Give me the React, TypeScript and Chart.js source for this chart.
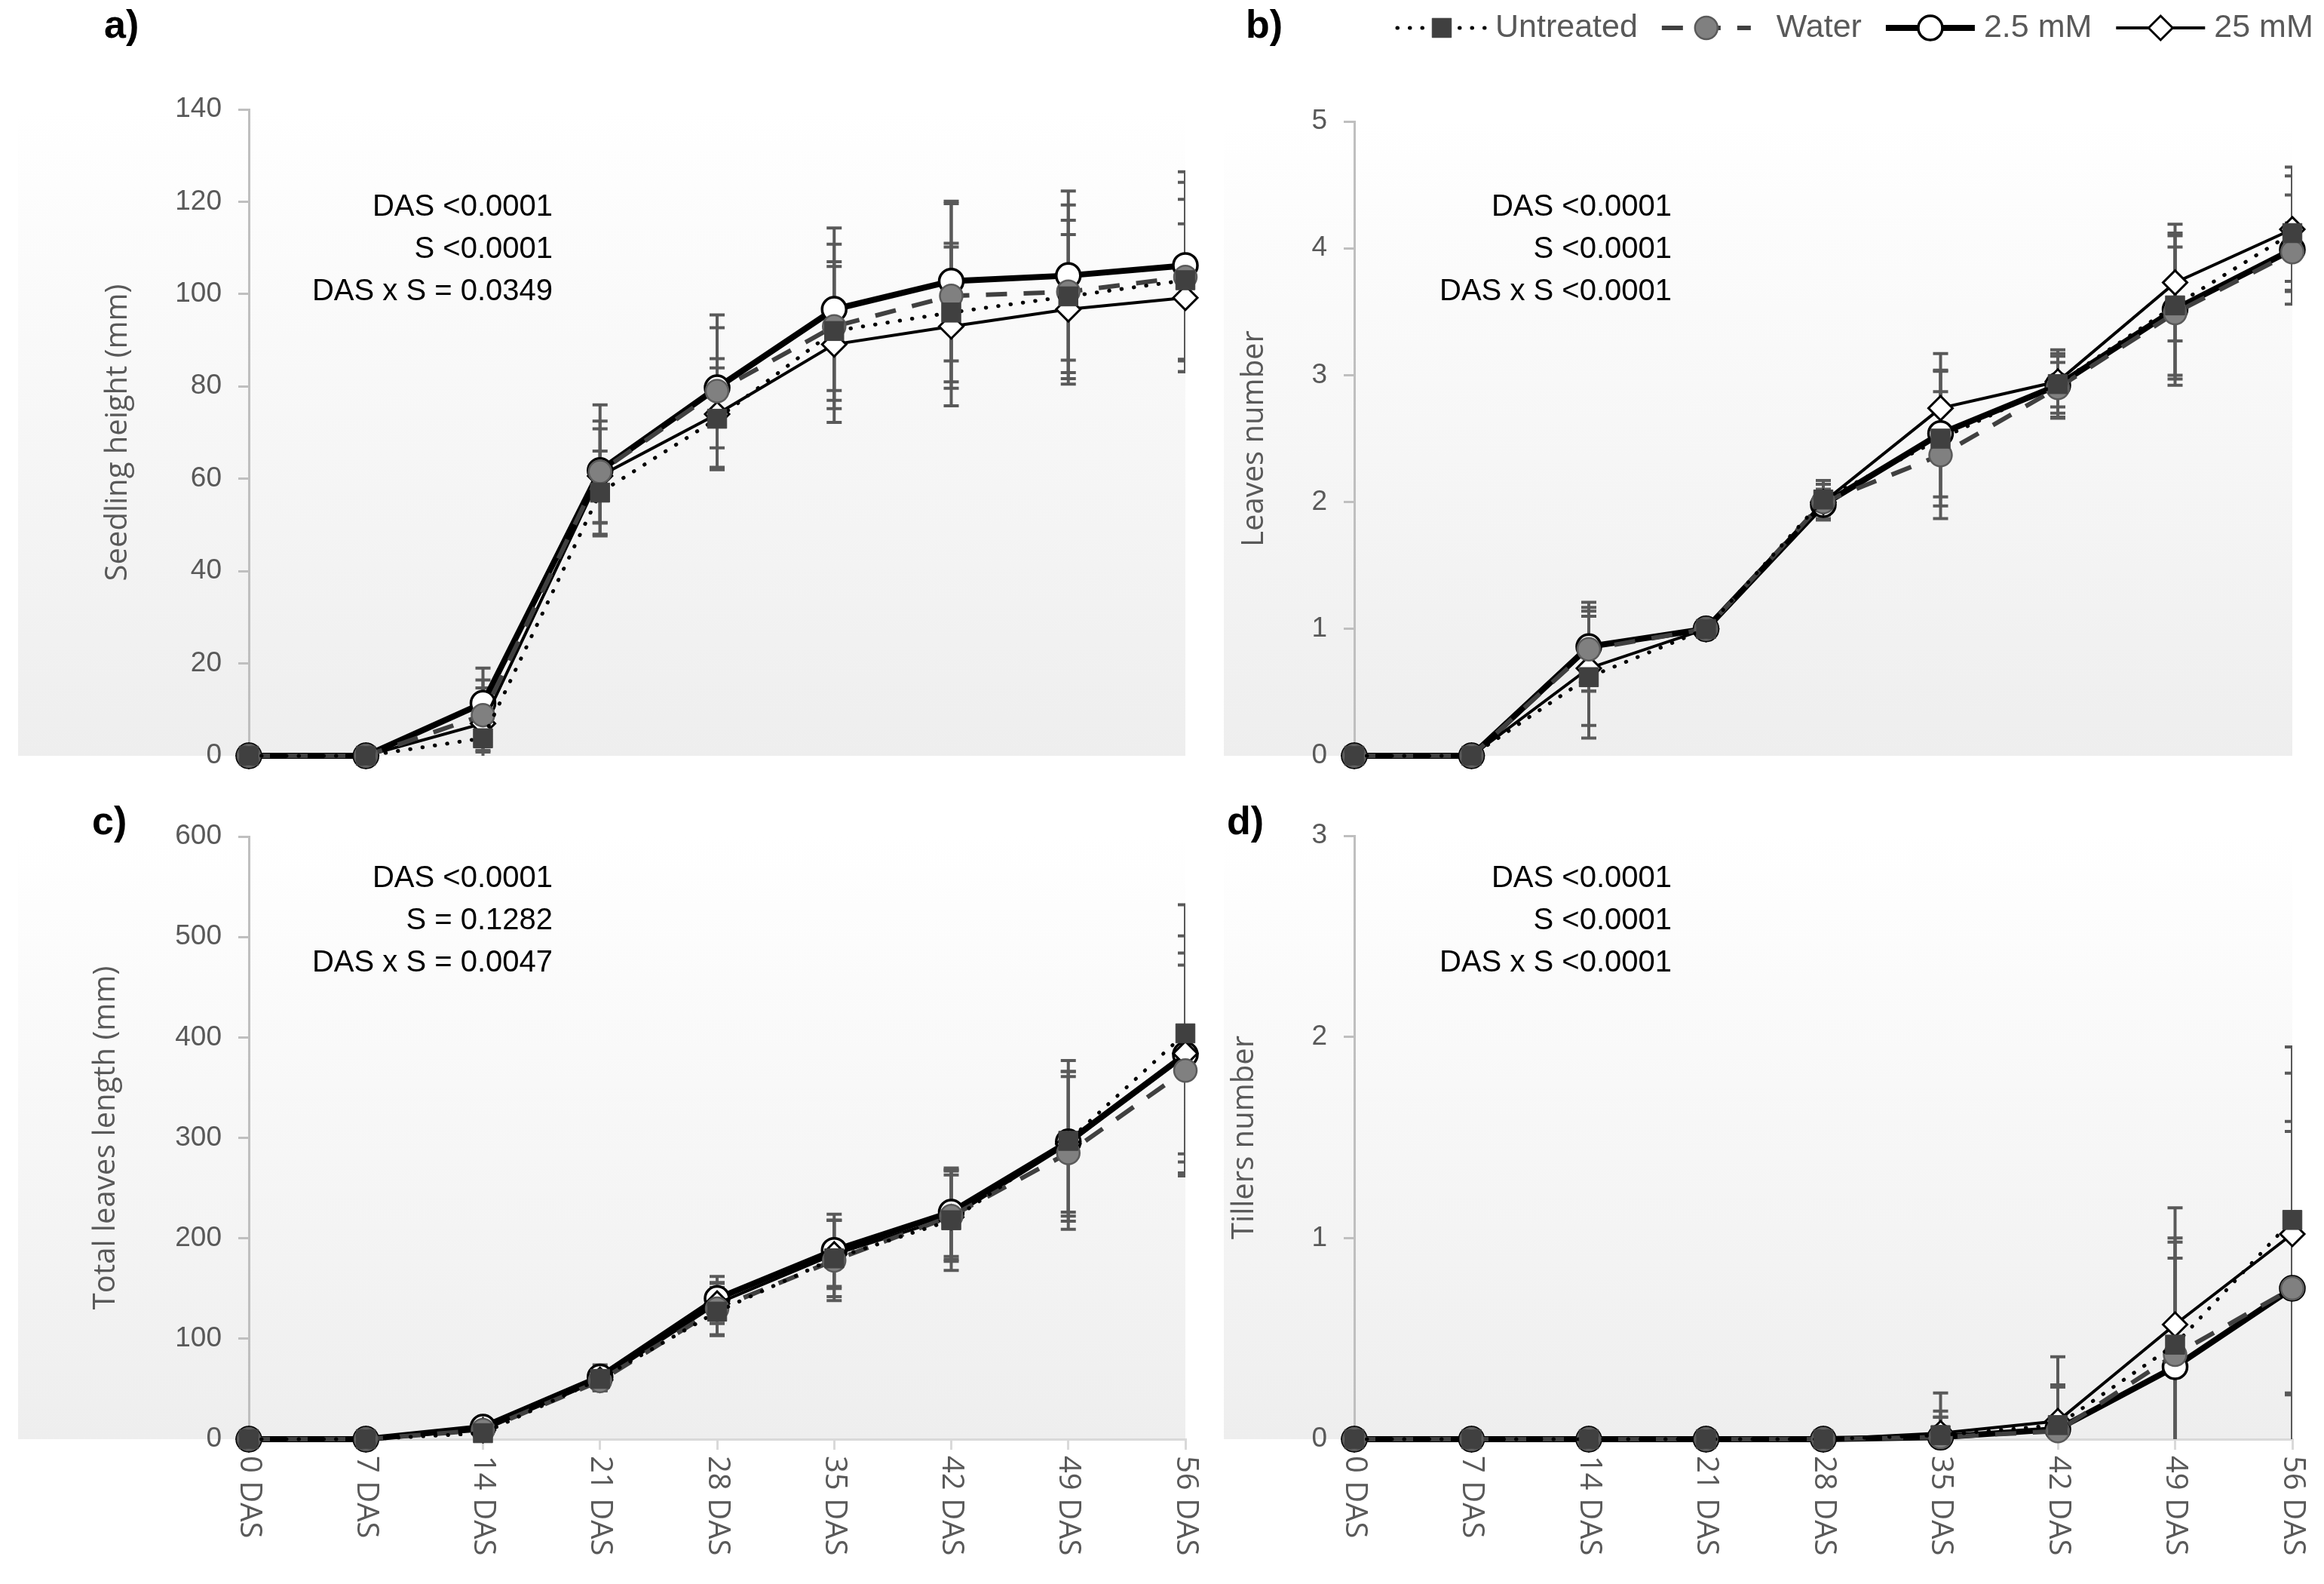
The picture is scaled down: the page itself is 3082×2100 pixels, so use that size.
import React, { useEffect, useRef } from 'react';
import { Chart, registerables } from 'chart.js';

Chart.register(...registerables);

// ---------------- data ----------------
const categories = ['0 DAS', '7 DAS', '14 DAS', '21 DAS', '28 DAS', '35 DAS', '42 DAS', '49 DAS', '56 DAS'];
const seriesNames = ['Untreated', 'Water', '2.5 mM', '25 mM'];

// a) Seedling height (mm)
const heightUntreated = [0, 0, 3.8, 57, 73, 92, 96, 99.5, 103];
const heightUntreatedErr = [0, 0, 3, 9, 11, 15, 15, 16.5, 17.5];
const heightWater = [0, 0, 8.8, 61.5, 79, 93, 99.6, 100.5, 103.7];
const heightWaterErr = [0, 0, 7.6, 11, 16.5, 17.8, 20, 18.8, 20.5];
const heightLow = [0, 0, 11.4, 61.8, 79.7, 96.7, 102.8, 104, 106.2];
const heightLowErr = [0, 0, 7.6, 14.2, 13, 17.6, 17.3, 18.3, 20.3];
const heightHigh = [0, 0, 7, 60.6, 74, 89.1, 93, 96.7, 99.2];
const heightHighErr = [0, 0, 7.7, 10.2, 12, 16.9, 17.2, 16.2, 16];

// b) Leaves number
const leavesUntreated = [0, 0, 0.62, 1, 2.02, 2.5, 2.93, 3.55, 4.12];
const leavesUntreatedErr = [0, 0, 0.48, 0, 0.15, 0.53, 0.27, 0.55, 0.45];
const leavesWater = [0, 0, 0.84, 1, 2.0, 2.37, 2.9, 3.49, 3.97];
const leavesWaterErr = [0, 0, 0.33, 0, 0.14, 0.5, 0.2, 0.52, 0.23];
const leavesLow = [0, 0, 0.86, 1, 1.98, 2.54, 2.92, 3.52, 3.99];
const leavesLowErr = [0, 0, 0.35, 0, 0.12, 0.5, 0.25, 0.6, 0.43];
const leavesHigh = [0, 0, 0.69, 1, 2.0, 2.74, 2.95, 3.73, 4.15];
const leavesHighErr = [0, 0, 0.45, 0, 0.1, 0.43, 0.2, 0.46, 0.49];

// c) Total leaves length (mm)
const lengthUntreated = [0, 0, 6, 60, 127, 180, 218, 297, 404];
const lengthUntreatedErr = [0, 0, 3, 10, 24, 38, 50, 80, 128];
const lengthWater = [0, 0, 9, 58, 130, 178, 222, 285, 367];
const lengthWaterErr = [0, 0, 3, 10, 26, 40, 45, 76, 105];
const lengthLow = [0, 0, 12, 62, 140, 188, 226, 296, 383];
const lengthLowErr = [0, 0, 3, 12, 22, 36, 44, 70, 118];
const lengthHigh = [0, 0, 9, 59, 135, 184, 221, 294, 384];
const lengthHighErr = [0, 0, 3, 10, 20, 34, 42, 72, 100];

// d) Tillers number
const tillersUntreated = [0, 0, 0, 0, 0, 0.02, 0.07, 0.47, 1.09];
const tillersUntreatedErr = [0, 0, 0, 0, 0, 0.12, 0.2, 0.53, 0.86];
const tillersWater = [0, 0, 0, 0, 0, 0.01, 0.04, 0.42, 0.75];
const tillersWaterErr = [0, 0, 0, 0, 0, 0.1, 0.22, 0.48, 0.78];
const tillersLow = [0, 0, 0, 0, 0, 0.01, 0.05, 0.36, 0.75];
const tillersLowErr = [0, 0, 0, 0, 0, 0.1, 0.21, 0.62, 0.83];
const tillersHigh = [0, 0, 0, 0, 0, 0.03, 0.09, 0.57, 1.02];
const tillersHighErr = [0, 0, 0, 0, 0, 0.2, 0.32, 0.58, 0.8];

// statistics annotations
const statsA = ['DAS <0.0001', 'S <0.0001', 'DAS x S = 0.0349'];
const statsB = ['DAS <0.0001', 'S <0.0001', 'DAS x S <0.0001'];
const statsC = ['DAS <0.0001', 'S = 0.1282', 'DAS x S = 0.0047'];
const statsD = ['DAS <0.0001', 'S <0.0001', 'DAS x S <0.0001'];

// axis ranges
const yMaxA = 140, yStepA = 20;
const yMaxB = 5, yStepB = 1;
const yMaxC = 600, yStepC = 100;
const yMaxD = 3, yStepD = 1;

// ---------------- styles ----------------
const TICK_COLOR = '#595959';
const NARROW = "'Liberation Sans', Arial, sans-serif";
const WIDE = "'Open Sans', 'DejaVu Sans', sans-serif";

const seriesStyles: any[] = [
  {
    borderColor: '#000000', borderWidth: 5, borderDash: [0.5, 16], borderCapStyle: 'round',
    pointStyle: 'rect', pointRadius: 18, pointBackgroundColor: '#404040', pointBorderColor: '#404040',
    pointBorderWidth: 1, order: 0,
  },
  {
    borderColor: '#404040', borderWidth: 6, borderDash: [28, 22], borderCapStyle: 'butt',
    pointStyle: 'circle', pointRadius: 15, pointBackgroundColor: '#808080', pointBorderColor: '#5a5a5a',
    pointBorderWidth: 2.5, order: 1,
  },
  {
    borderColor: '#000000', borderWidth: 8, borderDash: [],
    pointStyle: 'circle', pointRadius: 16, pointBackgroundColor: '#ffffff', pointBorderColor: '#000000',
    pointBorderWidth: 3.5, order: 3,
  },
  {
    borderColor: '#000000', borderWidth: 4, borderDash: [],
    pointStyle: 'rectRot', pointRadius: 16, pointBackgroundColor: '#ffffff', pointBorderColor: '#000000',
    pointBorderWidth: 3, order: 2,
  },
];

function drawMarker(ctx: CanvasRenderingContext2D, st: any, x: number, y: number) {
  const r = st.pointRadius;
  ctx.save();
  ctx.beginPath();
  if (st.pointStyle === 'rect') {
    const s = Math.SQRT1_2 * r;
    ctx.rect(x - s, y - s, 2 * s, 2 * s);
  } else if (st.pointStyle === 'rectRot') {
    ctx.moveTo(x - r, y);
    ctx.lineTo(x, y - r);
    ctx.lineTo(x + r, y);
    ctx.lineTo(x, y + r);
    ctx.closePath();
  } else {
    ctx.arc(x, y, r, 0, Math.PI * 2);
  }
  ctx.fillStyle = st.pointBackgroundColor;
  ctx.fill();
  ctx.setLineDash([]);
  ctx.lineWidth = st.pointBorderWidth;
  ctx.strokeStyle = st.pointBorderColor;
  ctx.stroke();
  ctx.restore();
}

const errorBarPlugin = {
  id: 'errorBars',
  beforeDatasetsDraw(chart: any) {
    const { ctx, chartArea: a } = chart;
    const yS = chart.scales.y;
    ctx.save();
    ctx.beginPath();
    ctx.rect(a.left, a.top, a.right - a.left, a.bottom - a.top);
    ctx.clip();
    ctx.strokeStyle = '#595959';
    ctx.lineWidth = 4;
    ctx.setLineDash([]);
    chart.data.datasets.forEach((ds: any, di: number) => {
      const meta = chart.getDatasetMeta(di);
      ds.data.forEach((v: number, i: number) => {
        const e = ds.errors[i];
        if (!e) return;
        const x = meta.data[i].x;
        const y1 = yS.getPixelForValue(v + e);
        const y2 = yS.getPixelForValue(v - e);
        ctx.beginPath();
        ctx.moveTo(x, y1);
        ctx.lineTo(x, y2);
        ctx.moveTo(x - 10, y1);
        ctx.lineTo(x + 10, y1);
        ctx.moveTo(x - 10, y2);
        ctx.lineTo(x + 10, y2);
        ctx.stroke();
      });
    });
    ctx.restore();
  },
};

function makeBgPlugin(spec: any) {
  return {
    id: 'bg',
    beforeDraw(chart: any) {
      const { ctx, chartArea: a } = chart;
      const g = ctx.createLinearGradient(0, a.top, 0, a.bottom);
      g.addColorStop(0, '#ffffff');
      g.addColorStop(1, '#eeeeee');
      ctx.save();
      ctx.fillStyle = g;
      ctx.fillRect(spec.bgLeft, a.top, a.right - spec.bgLeft, a.bottom - a.top);
      ctx.restore();
    },
  };
}

function makeDecorPlugin(spec: any) {
  return {
    id: 'decor',
    afterDraw(chart: any) {
      const { ctx, chartArea: a } = chart;
      ctx.save();
      // statistics
      ctx.fillStyle = '#000000';
      ctx.font = `40px ${NARROW}`;
      ctx.textAlign = 'right';
      ctx.textBaseline = 'middle';
      spec.stats.forEach((t: string, i: number) => {
        ctx.fillText(t, spec.statsRight, spec.statsTop + i * 56);
      });
      // panel label
      ctx.font = `bold 52px ${NARROW}`;
      ctx.textAlign = 'left';
      ctx.fillText(spec.label, spec.labelX, spec.labelY);
      // rotated category labels
      if (spec.showX) {
        const xS = chart.scales.x;
        ctx.fillStyle = TICK_COLOR;
        ctx.font = `40px ${WIDE}`;
        ctx.textAlign = 'left';
        ctx.textBaseline = 'middle';
        chart.data.labels.forEach((lab: string, i: number) => {
          const x = xS.getPixelForTick(i);
          ctx.save();
          ctx.translate(x, a.bottom + 22);
          ctx.rotate(Math.PI / 2);
          ctx.fillText(lab, 0, 0);
          ctx.restore();
        });
      }
      // legend
      if (spec.legend) {
        let x = spec.legendX;
        const y = spec.legendY;
        ctx.font = `43px ${NARROW}`;
        chart.data.datasets.forEach((ds: any, k: number) => {
          const st = seriesStyles[k];
          const w = 118;
          ctx.save();
          ctx.beginPath();
          ctx.strokeStyle = ds.borderColor;
          ctx.lineWidth = ds.borderWidth;
          ctx.lineCap = ds.borderCapStyle || 'butt';
          ctx.setLineDash(ds.borderDash || []);
          ctx.moveTo(x, y);
          ctx.lineTo(x + w, y);
          ctx.stroke();
          ctx.restore();
          drawMarker(ctx, st, x + w / 2, y);
          x += w + (k === 1 ? 34 : 12);
          ctx.fillStyle = TICK_COLOR;
          ctx.textAlign = 'left';
          ctx.textBaseline = 'middle';
          ctx.fillText(ds.label, x, y);
          x += ctx.measureText(ds.label).width + 32;
        });
      }
      ctx.restore();
    },
  };
}

function buildConfig(spec: any): any {
  const datasets = seriesNames.map((name, k) => ({
    label: name,
    data: spec.values[k],
    errors: spec.errors[k],
    ...seriesStyles[k],
    fill: false,
    tension: 0,
    clip: false,
  }));
  return {
    type: 'line',
    data: { labels: categories, datasets },
    options: {
      responsive: false,
      animation: false,
      devicePixelRatio: 1,
      events: [],
      layout: { autoPadding: false, padding: spec.padding },
      plugins: { legend: { display: false }, tooltip: { enabled: false }, title: { display: false } },
      scales: {
        x: {
          type: 'category',
          display: spec.showX,
          offset: false,
          ticks: { display: false },
          grid: { display: true, drawOnChartArea: false, drawTicks: true, tickLength: 14, color: '#d9d9d9', lineWidth: 3, offset: false },
          border: { display: true, color: '#d9d9d9', width: 3 },
          afterFit: (s: any) => { s.height = spec.xHeight; },
        },
        y: {
          min: 0,
          max: spec.yMax,
          ticks: { stepSize: spec.yStep, color: TICK_COLOR, font: { family: NARROW, size: 37 }, padding: 22 },
          grid: { display: true, drawOnChartArea: false, drawTicks: true, tickLength: 14, color: '#bfbfbf', lineWidth: 3 },
          border: { display: true, color: '#bfbfbf', width: 3 },
          title: {
            display: true, text: spec.yTitle, color: TICK_COLOR,
            font: { family: WIDE, size: 40, lineHeight: 1.2 },
            padding: { top: spec.titlePad, bottom: 0 },
          },
          afterFit: (s: any) => { s.width = spec.yWidth; },
        },
      },
    },
    plugins: [makeBgPlugin(spec), errorBarPlugin, makeDecorPlugin(spec)],
  };
}

const panelA = {
  values: [heightUntreated, heightWater, heightLow, heightHigh],
  errors: [heightUntreatedErr, heightWaterErr, heightLowErr, heightHighErr],
  yMax: yMaxA, yStep: yStepA, yTitle: 'Seedling height (mm)', stats: statsA, label: 'a)',
  showX: false, xHeight: 0, yWidth: 330, titlePad: 133,
  padding: { left: 0, top: 145, right: 28, bottom: 48 },
  bgLeft: 24, statsRight: 733, statsTop: 275, labelX: 138, labelY: 36, legend: false,
};
const panelB = {
  values: [leavesUntreated, leavesWater, leavesLow, leavesHigh],
  errors: [leavesUntreatedErr, leavesWaterErr, leavesLowErr, leavesHighErr],
  yMax: yMaxB, yStep: yStepB, yTitle: 'Leaves number', stats: statsB, label: 'b)',
  showX: false, xHeight: 0, yWidth: 196, titlePad: 40,
  padding: { left: 0, top: 161, right: 42, bottom: 48 },
  bgLeft: 23, statsRight: 617, statsTop: 275, labelX: 52, labelY: 36,
  legend: true, legendX: 253, legendY: 37,
};
const panelC = {
  values: [lengthUntreated, lengthWater, lengthLow, lengthHigh],
  errors: [lengthUntreatedErr, lengthWaterErr, lengthLowErr, lengthHighErr],
  yMax: yMaxC, yStep: yStepC, yTitle: 'Total leaves length (mm)', stats: statsC, label: 'c)',
  showX: true, xHeight: 192, yWidth: 330, titlePad: 117,
  padding: { left: 0, top: 59, right: 28, bottom: 0 },
  bgLeft: 24, statsRight: 733, statsTop: 115, labelX: 122, labelY: 42, legend: false,
};
const panelD = {
  values: [tillersUntreated, tillersWater, tillersLow, tillersHigh],
  errors: [tillersUntreatedErr, tillersWaterErr, tillersLowErr, tillersHighErr],
  yMax: yMaxD, yStep: yStepD, yTitle: 'Tillers number', stats: statsD, label: 'd)',
  showX: true, xHeight: 192, yWidth: 196, titlePad: 27,
  padding: { left: 0, top: 58, right: 42, bottom: 0 },
  bgLeft: 23, statsRight: 617, statsTop: 115, labelX: 27, labelY: 42, legend: false,
};

function Panel({ spec, left, top, width, height }: any) {
  const ref = useRef<HTMLCanvasElement>(null);
  useEffect(() => {
    const chart = new Chart(ref.current as HTMLCanvasElement, buildConfig(spec));
    return () => chart.destroy();
  }, [spec]);
  return (
    <canvas
      ref={ref}
      width={width}
      height={height}
      style={{ position: 'absolute', left, top, width, height }}
    />
  );
}

export default function App() {
  return (
    <div style={{ position: 'fixed', left: 0, top: 0, width: 3082, height: 2100, background: '#ffffff', overflow: 'hidden' }}>
      <Panel spec={panelA} left={0} top={0} width={1600} height={1050} />
      <Panel spec={panelB} left={1600} top={0} width={1482} height={1050} />
      <Panel spec={panelC} left={0} top={1050} width={1600} height={1050} />
      <Panel spec={panelD} left={1600} top={1050} width={1482} height={1050} />
    </div>
  );
}
